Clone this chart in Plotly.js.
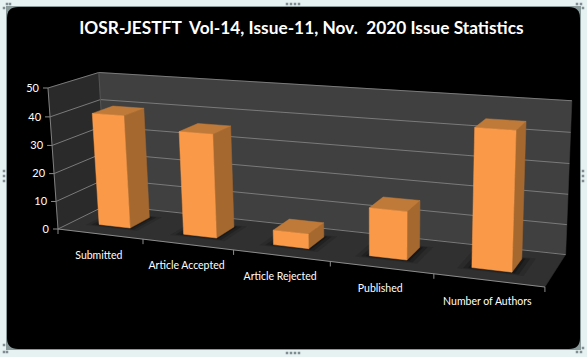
<!DOCTYPE html>
<html><head><meta charset="utf-8">
<script src="https://cdn.plot.ly/plotly-3.0.1.min.js"></script>
<style>html,body{margin:0;padding:0;background:#fff}#c{width:587px;height:357px}</style>
</head><body><div id="c"></div>
<script>
var categories = ['Submitted','Article Accepted','Article Rejected','Published','Number of Authors'];
var values = [40, 36, 5, 16, 44.5];
var valueTicks = [0,10,20,30,40,50];
var chartTitle = 'IOSR-JESTFT  Vol-14, Issue-11, Nov.  2020 Issue Statistics';

var vMax = 50, nCat = categories.length;
// perspective projection of (category, depth, value) to plot coordinates
function P(u,d,v){
  var w = 1 - 0.0308*u + 0.068*d - 0.0006*v;
  var X = 58 + 80.6*u + 56*d - 0.229*v;
  var Y = 229 + 2.76*u - 10.1*d - 2.873*v;
  return [X/w, Y/w];
}
var traces = [];
function poly(pts, fill, line, lw){
  var xs = pts.map(function(p){return p[0];}), ys = pts.map(function(p){return p[1];});
  xs.push(xs[0]); ys.push(ys[0]);
  traces.push({x:xs,y:ys,mode:'lines',fill:'toself',fillcolor:fill,
    line:{color:line||fill,width:lw===undefined?0.5:lw},hoverinfo:'skip',showlegend:false});
}
function seg(a,b,color,w){
  traces.push({x:[a[0],b[0]],y:[a[1],b[1]],mode:'lines',line:{color:color,width:w||1},hoverinfo:'skip',showlegend:false});
}
// walls
poly([P(0,0,0),P(0,1,0),P(0,1,vMax),P(0,0,vMax)],'#2a2a2a');
poly([P(0,1,0),P(nCat,1,0),P(nCat,1,vMax),P(0,1,vMax)],'#404040');
poly([P(0,0,0),P(nCat,0,0),P(nCat,1,0),P(0,1,0)],'#303030');
// gridlines
valueTicks.forEach(function(t){
  seg(P(0,0,t),P(0,1,t),'#7a7a7a',1);
  seg(P(0,1,t),P(nCat,1,t),'#7a7a7a',1);
  seg(P(0,0,t),[P(0,0,t)[0]-5,P(0,0,t)[1]],'#8c8c8c',1);
});
seg(P(0,0,0),P(0,0,vMax),'#7f7f7f',1);
seg(P(0,1,0),P(0,1,vMax),'#555555',1);
seg(P(0,0,0),P(nCat,0,0),'#8c8c8c',1);
for(var i=0;i<=nCat;i++){ var p0=P(i,0,0); seg(p0,[p0[0],p0[1]+5],'#8c8c8c',1); }
// bars
var hw=0.185, d0=0.3, d1=0.72;
function shadow(l,r,pad,col){
  poly([P(l-pad,d0-pad*0.6,0),P(r+pad,d0-pad*0.6,0),P(r+pad,d1+pad*0.5,0),P(l-pad,d1+pad*0.5,0)],col,'rgba(0,0,0,0)',0);
}
values.forEach(function(val,i){
  var c=i+0.5-0.01*i, l=c-hw, r=c+hw;
  shadow(l,r,0.12,'rgba(30,30,30,0.3)');
  shadow(l,r,0.07,'rgba(20,20,20,0.4)');
  shadow(l,r,0.03,'rgba(15,15,15,0.5)');
  poly([P(r,d0,0),P(r,d1,0),P(r,d1,val),P(r,d0,val)],'#a5682f');
  poly([P(l,d0,val),P(r,d0,val),P(r,d1,val),P(l,d1,val)],'#bf7a39');
  poly([P(l,d0,0),P(r,d0,0),P(r,d0,val),P(l,d0,val)],'#fa9a48');
});
// tick labels
var vp = valueTicks.map(function(t){return P(0,0,t);});
traces.push({x:vp.map(function(p){return p[0]-9;}),y:vp.map(function(p){return p[1]+1;}),text:valueTicks.map(String),
  mode:'text',textposition:'middle left',textfont:{family:'Lato',size:11,color:'#ffffff'},hoverinfo:'skip',showlegend:false});
var cp = categories.map(function(c,i){return P(i+0.5,0,0);});
traces.push({x:cp.map(function(p){return p[0]-1;}),y:cp.map(function(p){return p[1]+22;}),text:categories,
  mode:'text',textposition:'middle center',textfont:{family:'Lato',size:10.5,color:'#ffffff'},hoverinfo:'skip',showlegend:false});
// frame handles
var hx=[287,291,295,299, 287,291,295,299, 4,4,4, 583,583,583, 7,10,4, 577,581,583, 4,4,7, 581,577,583];
var hy=[4,4,4,4, 353,353,353,353, 171,176,181, 171,176,181, 4,4,8, 4,4,8, 345,352,352, 352,352,348];
traces.push({x:hx,y:hy,mode:'markers',marker:{symbol:'square',size:2.5,color:'#7f8c90'},hoverinfo:'skip',showlegend:false});

var r0=11,L=7,T=7,R=580,B=349;
var framePath='M'+(L+r0)+','+T+' L'+(R-r0)+','+T+' Q'+R+','+T+' '+R+','+(T+r0)+' L'+R+','+(B-r0)+' Q'+R+','+B+' '+(R-r0)+','+B+
  ' L'+(L+r0)+','+B+' Q'+L+','+B+' '+L+','+(B-r0)+' L'+L+','+(T+r0)+' Q'+L+','+T+' '+(L+r0)+','+T+' Z';
var layout={
  width:587,height:357,margin:{l:0,r:0,t:0,b:0},
  paper_bgcolor:'#e6f1f1',plot_bgcolor:'rgba(0,0,0,0)',showlegend:false,
  title:{text:'<b>'+chartTitle+'</b>',font:{family:'Lato',size:17.3,color:'#ffffff'},x:0.5135,xanchor:'center',y:0.921,yanchor:'middle'},
  xaxis:{range:[0,587],visible:false,fixedrange:true},
  yaxis:{range:[357,0],visible:false,fixedrange:true},
  shapes:[
   {type:'rect',layer:'below',xref:'x',yref:'y',x0:L-1,x1:R+1,y0:T-1,y1:B+1,fillcolor:'#8a9a9a',line:{width:0}},
   {type:'path',layer:'below',xref:'x',yref:'y',path:framePath,fillcolor:'#000000',line:{width:0}}]
};
Plotly.newPlot('c',traces,layout,{staticPlot:true,displayModeBar:false});
</script></body></html>
